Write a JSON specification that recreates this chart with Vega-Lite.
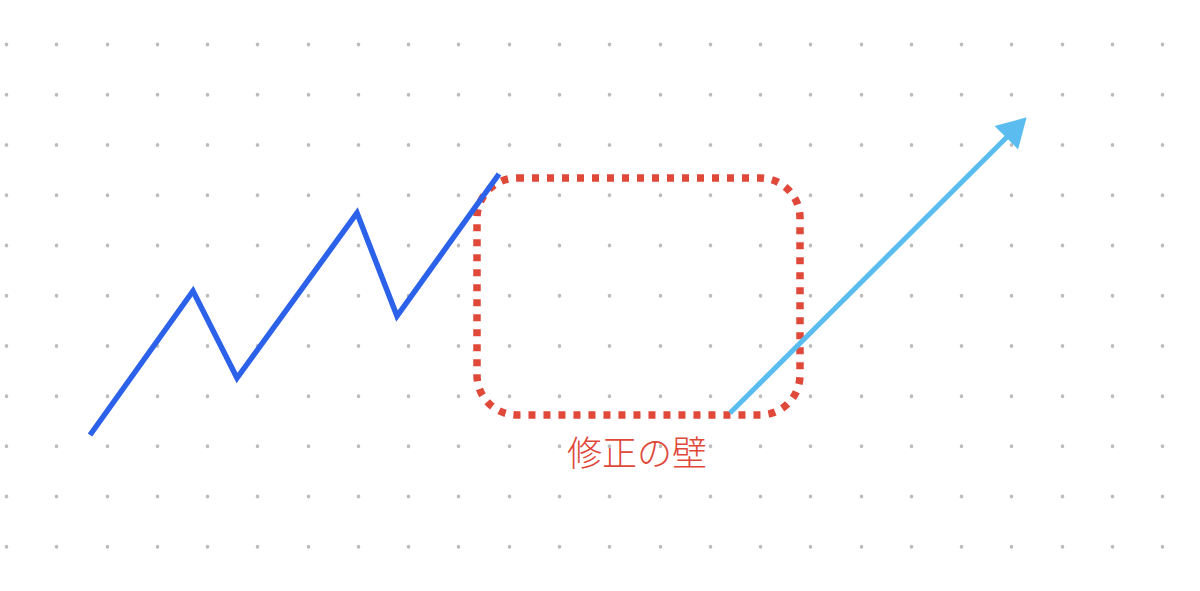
{
  "$schema": "https://vega.github.io/schema/vega-lite/v6.json",
  "width": 1200,
  "height": 591,
  "padding": 0,
  "autosize": {"type": "fit", "contains": "padding"},
  "background": "white",
  "datasets": {
    "trend": [
      {"i": 0, "x": 90, "y": 435},
      {"i": 1, "x": 193, "y": 291},
      {"i": 2, "x": 237, "y": 378},
      {"i": 3, "x": 357, "y": 213},
      {"i": 4, "x": 397, "y": 316},
      {"i": 5, "x": 499, "y": 174}
    ],
    "breakout": [
      {"i": 0, "x": 730, "y": 413},
      {"i": 1, "x": 1016, "y": 128}
    ],
    "head": [{"x": 1016.5, "y": 127.5}],
    "wall": [{"x": 477, "x2": 800, "y": 178, "y2": 415}],
    "label": [{"x": 637, "y": 455, "text": "修正の壁"}]
  },
  "encoding": {
    "x": {
      "field": "x", "type": "quantitative",
      "scale": {"domain": [0, 1200], "nice": false, "zero": false},
      "axis": {
        "values": [6, 56.3, 106.5, 156.8, 207.1, 257.4, 307.6, 357.9, 408.2, 458.4, 508.7, 559, 609.2, 659.5, 709.8, 760, 810.3, 860.6, 910.9, 961.1, 1011.4, 1061.7, 1111.9, 1162.2],
        "grid": true,
        "gridColor": "#bcbcbc",
        "gridWidth": 3.5,
        "gridCap": "round",
        "gridDash": [0.5, 49.73],
        "gridDashOffset": 5.8,
        "domain": false,
        "ticks": false,
        "labels": false,
        "title": null
      }
    },
    "y": {
      "field": "y", "type": "quantitative",
      "scale": {"domain": [0, 591], "reverse": true, "nice": false, "zero": false},
      "axis": null
    }
  },
  "layer": [
    {
      "data": {"name": "wall"},
      "mark": {
        "type": "rect",
        "cornerRadius": 40,
        "fill": null,
        "fillOpacity": 0,
        "stroke": "#e0483a",
        "strokeWidth": 7.5,
        "strokeDash": [7, 8]
      },
      "encoding": {
        "x2": {"field": "x2"},
        "y2": {"field": "y2"}
      }
    },
    {
      "data": {"name": "trend"},
      "mark": {"type": "line", "color": "#2c62ea", "strokeWidth": 5.5, "strokeJoin": "miter"},
      "encoding": {"order": {"field": "i"}}
    },
    {
      "data": {"name": "breakout"},
      "mark": {"type": "line", "color": "#5bbdef", "strokeWidth": 5},
      "encoding": {"order": {"field": "i"}}
    },
    {
      "data": {"name": "head"},
      "mark": {"type": "point", "shape": "triangle-up", "filled": true, "size": 1100, "angle": 45, "color": "#5bbdef", "opacity": 1},
      "encoding": {}
    },
    {
      "data": {"name": "label"},
      "mark": {"type": "text", "font": "Noto Sans CJK JP", "fontSize": 35, "fontWeight": 300, "color": "#e0483a", "align": "center", "baseline": "middle"},
      "encoding": {"text": {"field": "text"}}
    }
  ],
  "config": {"view": {"stroke": null}}
}
